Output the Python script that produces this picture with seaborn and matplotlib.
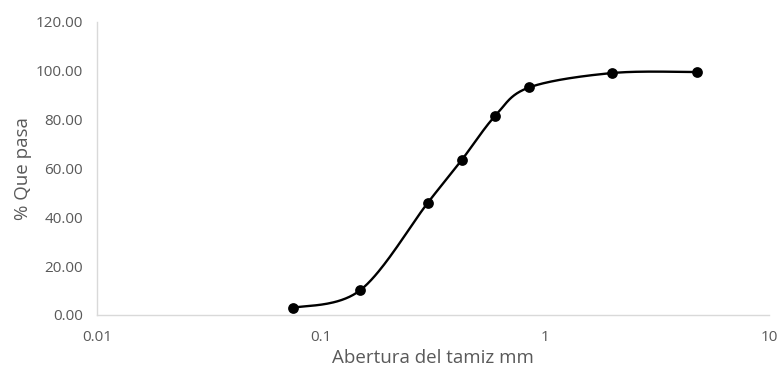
import numpy as np
import pandas as pd
import matplotlib
matplotlib.use("Agg")
import matplotlib.pyplot as plt
import seaborn as sns
from matplotlib.ticker import FixedLocator, FuncFormatter, NullLocator

sieve_mm = [0.075, 0.15, 0.30, 0.425, 0.60, 0.85, 2.00, 4.75]
passing_pct = [2.9, 10.2, 46.0, 63.5, 81.6, 93.2, 99.1, 99.5]
x_ticks = [0.01, 0.1, 1, 10]
x_tick_labels = ["0.01", "0.1", "1", "10"]
y_ticks = [0, 20, 40, 60, 80, 100, 120]

df = pd.DataFrame({"x": sieve_mm, "y": passing_pct})

sns.set_theme(style="white")
plt.rcParams["font.family"] = ["Open Sans", "DejaVu Sans"]

fig = plt.figure(figsize=(7.81, 3.74), dpi=100)
ax = fig.add_axes([0.1242, 0.1578, 0.8604, 0.7834])

# Smoothed line (Catmull-Rom / Excel-style) computed in log-x space
u = np.log10(np.array(sieve_mm))
v = np.array(passing_pct)
P = np.column_stack([u, v])
n = len(P)
curve = []
for i in range(n - 1):
    p0 = P[i - 1] if i > 0 else P[i]
    p1 = P[i]
    p2 = P[i + 1]
    p3 = P[i + 2] if i + 2 < n else P[i + 1]
    c1 = p1 + (p2 - p0) / 6.0
    c2 = p2 - (p3 - p1) / 6.0
    t = np.linspace(0, 1, 40)[:, None]
    seg = ((1 - t) ** 3) * p1 + 3 * ((1 - t) ** 2) * t * c1 + 3 * (1 - t) * t ** 2 * c2 + t ** 3 * p2
    curve.append(seg if i == 0 else seg[1:])
curve = np.vstack(curve)
smooth = pd.DataFrame({"x": 10 ** curve[:, 0], "y": curve[:, 1]})

ax.plot(smooth["x"], smooth["y"], color="black", lw=1.7, zorder=2)
sns.scatterplot(data=df, x="x", y="y", ax=ax, color="black", s=60,
                edgecolor="black", linewidth=0, zorder=3, legend=False)

ax.set_xscale("log")
ax.set_xlim(0.01, 10)
ax.set_ylim(0, 120)
ax.xaxis.set_major_locator(FixedLocator(x_ticks))
ax.xaxis.set_minor_locator(NullLocator())
ax.set_xticklabels(x_tick_labels)
ax.set_yticks(y_ticks)
ax.yaxis.set_major_formatter(FuncFormatter(lambda val, pos: f"{val:.2f}"))

gray = "#595959"
ax.tick_params(axis="both", length=0, labelsize=11, labelcolor=gray)
ax.tick_params(axis="x", pad=11)
ax.tick_params(axis="y", pad=10)
ax.set_xlabel("Abertura del tamiz mm", fontsize=13.5, color=gray, labelpad=3)
ax.set_ylabel("% Que pasa", fontsize=13.5, color=gray, labelpad=3)

for side in ["top", "right"]:
    ax.spines[side].set_visible(False)
for side in ["left", "bottom"]:
    ax.spines[side].set_color("#d9d9d9")
    ax.spines[side].set_linewidth(1.0)
ax.grid(False)

fig.savefig("out.png", dpi=100)
